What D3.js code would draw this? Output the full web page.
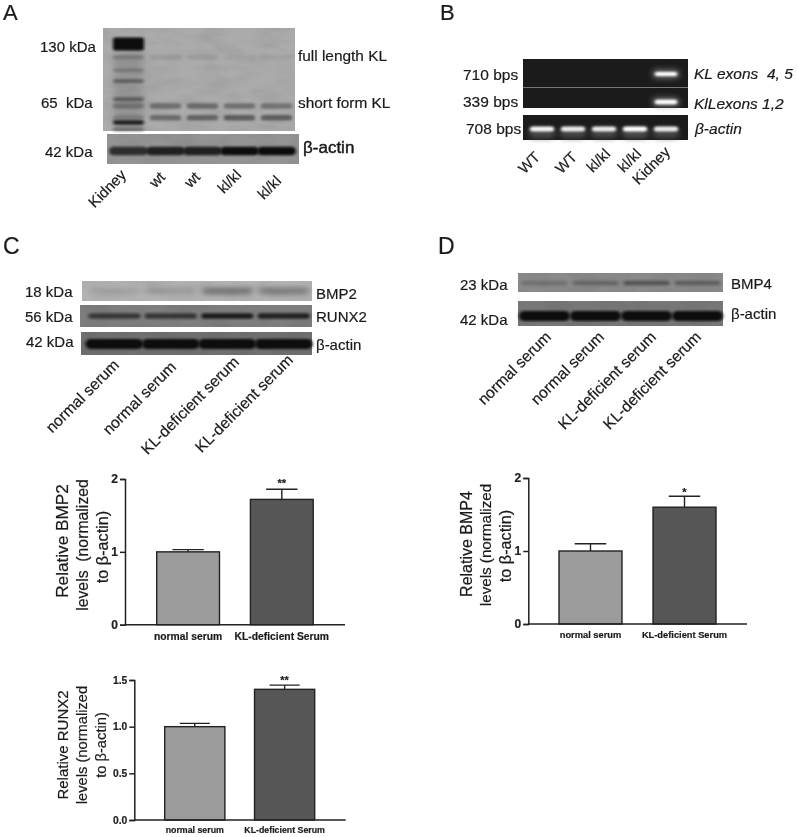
<!DOCTYPE html>
<html>
<head>
<meta charset="utf-8">
<script src="https://cdn.jsdelivr.net/npm/d3@7"></script>
<style>
  html, body { margin: 0; padding: 0; background: #fff; }
  svg { display: block; filter: blur(0.4px); }
  text { font-family: "Liberation Sans", Arial, sans-serif; fill: #1a1a1a; stroke: #1a1a1a; stroke-width: 0.2px; white-space: pre; }
  .axis path, .axis line { stroke: #222; stroke-width: 1.5px; }
  .axis text { font-weight: bold; fill: #222; }
</style>
</head>
<body>
<svg id="fig" width="798" height="837"></svg>
<script>
// ---- bar chart values
const barGroups = ['normal serum', 'KL-deficient Serum'];
const bmp2Values = [1.0, 1.72];
const bmp2Errors = [0.03, 0.14];
const runx2Values = [1.0, 1.4];
const runx2Errors = [0.035, 0.045];
const bmp4Values = [1.0, 1.6];
const bmp4Errors = [0.1, 0.15];

// ---- lane names
const lanesA = ['Kidney', 'wt', 'wt', 'kl/kl', 'kl/kl'];
const lanesB = ['WT', 'WT', 'kl/kl', 'kl/kl', 'Kidney'];
const lanesSerum = ['normal serum', 'normal serum', 'KL-deficient serum', 'KL-deficient serum'];

// ---- band strengths per lane, 0..1
const kidneyKDa = [130, 112, 97, 86, 70, 54, 50];
const kidneyStrength = [1, 0.2, 0.22, 0.38, 0.42, 0.9, 0.3];
const faintKL = [0, 0.12, 0.12, 0.06, 0.06];
const shortKL = [0.3, 0.42, 0.45, 0.42, 0.38];
const lowerKL = [0.2, 0.45, 0.5, 0.55, 0.55];
const actinA = [0.75, 0.85, 0.85, 1, 1];
const exon45 = [0, 0, 0, 0, 1];
const exon12 = [0, 0, 0, 0, 1];
const actinB = [0.95, 0.9, 0.9, 1, 0.9];
const bmp2Blot = [0.12, 0.16, 0.42, 0.36];
const runx2Blot = [0.6, 0.62, 0.85, 0.8];
const actinC = [1, 1, 1, 1];
const bmp4Blot = [0.18, 0.25, 0.4, 0.32];
const actinD = [1, 1, 1, 1];

const svg = d3.select('#fig');
const defs = svg.append('defs');

function blurFilter(id, sx, sy) {
  defs.append('filter').attr('id', id)
    .attr('x', '-30%').attr('y', '-100%').attr('width', '160%').attr('height', '300%')
    .append('feGaussianBlur').attr('stdDeviation', sx + ' ' + sy);
}
blurFilter('soft', 1.6, 1.1);
blurFilter('soft2', 3, 2);
blurFilter('glow', 3, 3);

// grain laid over the blots so they are not flat
const grain = defs.append('filter').attr('id', 'grain')
  .attr('x', 0).attr('y', 0).attr('width', '100%').attr('height', '100%');
grain.append('feTurbulence').attr('type', 'fractalNoise')
  .attr('baseFrequency', '0.035 0.09').attr('numOctaves', 3).attr('seed', 4);
grain.append('feColorMatrix').attr('type', 'matrix')
  .attr('values', '0 0 0 0 0  0 0 0 0 0  0 0 0 0 0  0 0 0 0.9 -0.33');

const opacity = d3.scaleLinear().domain([0, 1]).range([0, 1]);

function panel(x0, x1, y0, y1, fill) {
  svg.append('rect').attr('x', x0).attr('y', y0)
    .attr('width', x1 - x0).attr('height', y1 - y0).attr('fill', fill);
  svg.append('rect').attr('x', x0).attr('y', y0)
    .attr('width', x1 - x0).attr('height', y1 - y0)
    .attr('filter', 'url(#grain)').attr('opacity', fill == '#1b1b1b' ? 0 : 0.12);
}

function lanes(names, x0, x1) {
  return d3.scaleBand().domain(d3.range(names.length)).range([x0, x1]);
}

function bandRow(x, y, strengths, h, frac, color, filter) {
  svg.append('g').selectAll('rect')
    .data(strengths)
    .join('rect')
    .attr('x', (d, i) => x(i) + x.bandwidth() * (1 - frac) / 2)
    .attr('width', x.bandwidth() * frac)
    .attr('y', y - h / 2)
    .attr('height', h)
    .attr('rx', h / 2)
    .attr('fill', color)
    .attr('opacity', d => opacity(d))
    .attr('filter', 'url(#' + (filter || 'soft') + ')');
}

function label(x, y, str, size, opts) {
  opts = opts || {};
  return svg.append('text').attr('x', x).attr('y', y).text(str)
    .attr('font-size', size)
    .attr('font-style', opts.italic ? 'italic' : null)
    .attr('font-weight', opts.bold ? 'bold' : null)
    .attr('text-anchor', opts.anchor || null);
}

function slanted(names, ends, size) {
  svg.append('g').selectAll('text')
    .data(names)
    .join('text')
    .attr('font-size', size)
    .attr('text-anchor', 'end')
    .attr('transform', (d, i) => `translate(${ends[i][0]},${ends[i][1]}) rotate(-45)`)
    .text(d => d);
}

// ---------- A
const xA = lanes(lanesA, 110, 295);
// migration distance on the blot goes with log of the size
const kda = d3.scaleLog().domain([130, 65]).range([44, 106]);
panel(103, 295, 28, 131, '#ababab');
svg.append('rect').attr('x', 114).attr('y', 52).attr('width', 29).attr('height', 78)
  .attr('fill', '#666').attr('opacity', 0.3).attr('filter', 'url(#soft2)');
svg.append('g').selectAll('rect')
  .data(kidneyStrength)
  .join('rect')
  .attr('x', xA(0) + 3)
  .attr('width', xA.bandwidth() - 6)
  .attr('y', (d, i) => kda(kidneyKDa[i]) - (i == 0 ? 6.5 : 2))
  .attr('height', (d, i) => i == 0 ? 13 : 4)
  .attr('rx', 2)
  .attr('fill', '#0c0c0c')
  .attr('opacity', d => d)
  .attr('filter', 'url(#soft)');
bandRow(xA, kda(112), faintKL, 5, 0.85, '#333');
bandRow(xA, kda(65), shortKL, 5.5, 0.85, '#222');
bandRow(xA, kda(57), lowerKL, 5.5, 0.85, '#222');
panel(107, 299, 134, 164, '#949494');
bandRow(xA, 151, actinA, 8.5, 1.05, '#111');

label(40, 52, '130 kDa', 15);
label(41, 108, '65  kDa', 15);
label(45, 157, '42 kDa', 15);
label(298, 61, 'full length KL', 15.4);
label(298, 108, 'short form KL', 15.4);
label(303, 153, 'β-actin', 17).style('stroke-width', '0.45px');
slanted(lanesA, [[127, 176], [166, 178], [201, 178], [242, 176], [282, 182]], 15);

// ---------- B
const xB = lanes(lanesB, 526.5, 681.5);
panel(523, 688, 59, 87, '#1b1b1b');
panel(523, 688, 88, 108, '#1b1b1b');
panel(523, 688, 115, 140, '#1b1b1b');
svg.append('line').attr('x1', 523).attr('x2', 688).attr('y1', 87.5).attr('y2', 87.5)
  .attr('stroke', '#777');
bandRow(xB, 74, exon45, 7, 0.85, '#888', 'glow');
bandRow(xB, 74, exon45, 4, 0.72, '#fff');
bandRow(xB, 102, exon12, 7, 0.85, '#888', 'glow');
bandRow(xB, 102, exon12, 4.5, 0.72, '#fff');
bandRow(xB, 133, actinB, 9, 0.85, '#555', 'glow');
bandRow(xB, 129, actinB, 5, 0.78, '#fff');

label(463, 80, '710 bps', 15.5);
label(463, 107, '339 bps', 15.5);
label(466, 134, '708 bps', 15.5);
label(694, 79, 'KL exons  4, 5', 15.5, { italic: true });
label(694, 109, 'KlLexons 1,2', 15.5, { italic: true });
label(695, 134, 'β-actin', 15.5, { italic: true });
slanted(lanesB, [[541, 158], [578, 158], [611, 155], [642, 155], [671, 153]], 15);

// ---------- C blots
const xC = lanes(lanesSerum, 86, 312);
panel(82, 312, 281, 301, '#b3b3b3');
bandRow(xC, 291, bmp2Blot, 8, 0.9, '#333', 'soft2');
panel(80, 312, 305, 327, '#7e7e7e');
bandRow(xC, 316, runx2Blot, 5.5, 0.92, '#111');
panel(81, 312, 332, 355, '#707070');
bandRow(xC, 344, actinC, 10, 1.02, '#0a0a0a');

label(25, 297, '18 kDa', 15);
label(25, 322, '56 kDa', 15);
label(26, 347, '42 kDa', 15);
label(316, 299, 'BMP2', 15);
label(316, 322, 'RUNX2', 15);
label(316, 350, 'β-actin', 15);
slanted(lanesSerum, [[120, 366], [177, 368], [240, 363], [294, 361]], 15.7);

// ---------- D blots
const xD = lanes(lanesSerum, 519, 723);
panel(518, 723, 273, 292, '#8a8a8a');
bandRow(xD, 283, bmp4Blot, 5, 0.9, '#111');
panel(518, 723, 301, 326, '#777');
bandRow(xD, 316, actinD, 10, 1.0, '#0a0a0a');

label(460, 290, '23 kDa', 15);
label(460, 325, '42 kDa', 15);
label(731, 289, 'BMP4', 15);
label(731, 319, 'β-actin', 15);
slanted(lanesSerum, [[552, 338], [605, 338], [657, 338], [702, 338]], 15.7);

// panel letters
label(3, 20, 'A', 22);
label(440, 20, 'B', 22);
label(3, 254, 'C', 23);
label(438, 254, 'D', 23);

// ---------- bar charts
function barChart(cfg) {
  const g = svg.append('g');
  const y = d3.scaleLinear().domain([0, cfg.yMax]).range([cfg.y0, cfg.y1]);
  const x = d3.scaleBand().domain(barGroups).range([cfg.xBars[0], cfg.xBars[1]])
    .paddingInner(0.33);

  const yAxis = d3.axisLeft(y).tickValues(cfg.ticks).tickFormat(d3.format(cfg.fmt))
    .tickSize(5).tickPadding(2);
  g.append('g').attr('class', 'axis')
    .attr('transform', `translate(${cfg.xAxis},0)`)
    .call(yAxis)
    .call(s => s.selectAll('text').attr('font-size', cfg.tickSize));

  // error bars go behind the bars
  g.append('g').selectAll('path')
    .data(cfg.values)
    .join('path')
    .attr('fill', 'none').attr('stroke', '#222').attr('stroke-width', 1.4)
    .attr('d', (d, i) => {
      const c = x(barGroups[i]) + x.bandwidth() / 2;
      const top = y(d + cfg.errors[i]);
      const w = x.bandwidth() / 4;
      return `M${c},${y(d)}V${top}M${c - w},${top}H${c + w}`;
    });

  g.append('g').selectAll('rect')
    .data(cfg.values)
    .join('rect')
    .attr('x', (d, i) => x(barGroups[i]))
    .attr('y', d => y(d))
    .attr('width', x.bandwidth())
    .attr('height', d => y(0) - y(d))
    .attr('fill', (d, i) => i == 0 ? '#9b9b9b' : '#565656')
    .attr('stroke', '#222')
    .attr('stroke-width', 1.4);

  g.append('line').attr('x1', cfg.xAxis).attr('x2', cfg.xEnd)
    .attr('y1', cfg.y0).attr('y2', cfg.y0)
    .attr('stroke', '#222').attr('stroke-width', 1.5);

  g.append('g').selectAll('text')
    .data(barGroups)
    .join('text')
    .attr('x', d => x(d) + x.bandwidth() / 2)
    .attr('y', cfg.labelY)
    .attr('text-anchor', 'middle')
    .attr('font-weight', 'bold')
    .attr('font-size', cfg.labelSize)
    .text(d => d);

  g.append('text')
    .attr('x', x(barGroups[1]) + x.bandwidth() / 2)
    .attr('y', cfg.starY)
    .attr('text-anchor', 'middle')
    .attr('font-weight', 'bold')
    .attr('font-size', 11)
    .text(cfg.stars);

  g.append('g').selectAll('text')
    .data(cfg.title)
    .join('text')
    .attr('text-anchor', 'middle')
    .attr('font-size', (d, i) => cfg.titleSize[i])
    .attr('transform', (d, i) => `translate(${cfg.titleX[i]},${cfg.titleY[i]}) rotate(-90)`)
    .text(d => d);
}

barChart({
  values: bmp2Values, errors: bmp2Errors, yMax: 2, ticks: [0, 1, 2], fmt: 'd',
  y0: 624.7, y1: 479, xAxis: 125, xEnd: 345, xBars: [156.7, 313.2],
  tickSize: 12, labelSize: 10.3, labelY: 640, starY: 487, stars: '**',
  title: ['Relative BMP2', 'levels  (normalized', 'to β-actin)'],
  titleSize: [17.2, 15.8, 16.2], titleX: [68, 88, 108], titleY: [541, 545, 547]
});

barChart({
  values: runx2Values, errors: runx2Errors, yMax: 1.5, ticks: [0, 0.5, 1, 1.5], fmt: '.1f',
  y0: 820, y1: 680, xAxis: 134.3, xEnd: 345.7, xBars: [164.7, 314.7],
  tickSize: 10.3, labelSize: 8.8, labelY: 833, starY: 684, stars: '**',
  title: ['Relative RUNX2', 'levels (normalized', 'to β-actin)'],
  titleSize: [15, 14.7, 14.7], titleX: [68, 87, 106], titleY: [745, 745, 745]
});

barChart({
  values: bmp4Values, errors: bmp4Errors, yMax: 2, ticks: [0, 1, 2], fmt: 'd',
  y0: 624, y1: 478, xAxis: 528.3, xEnd: 747, xBars: [559, 716],
  tickSize: 12, labelSize: 9.3, labelY: 638, starY: 496, stars: '*',
  title: ['Relative BMP4', 'levels (normalized', 'to β-actin)'],
  titleSize: [16, 15.2, 16.2], titleX: [472, 491, 511], titleY: [544, 545, 546]
});
</script>
</body>
</html>
